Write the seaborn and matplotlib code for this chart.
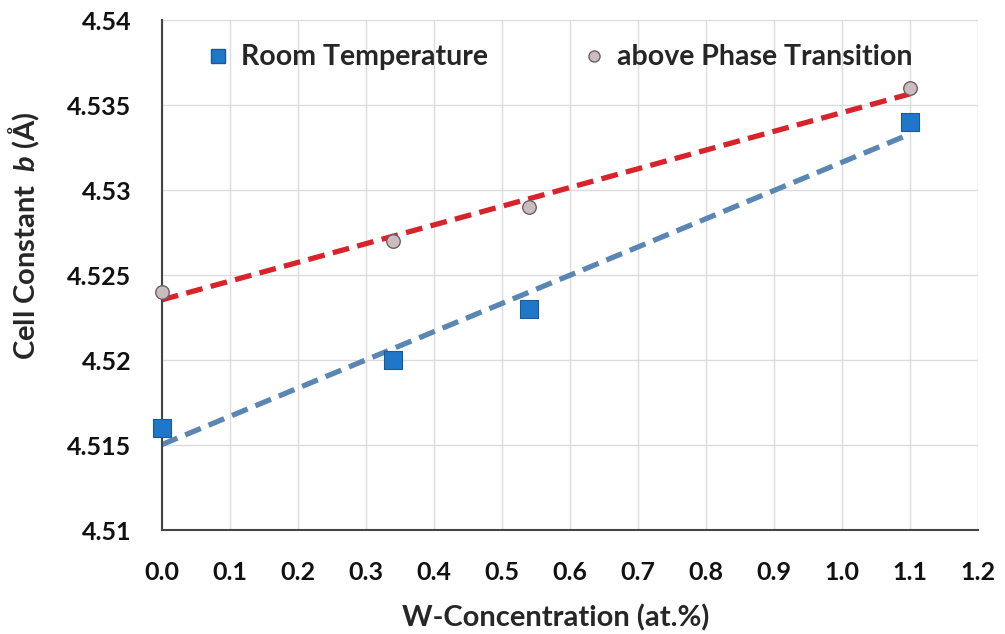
import numpy as np
import pandas as pd
import seaborn as sns
import matplotlib
matplotlib.use("Agg")
import matplotlib.pyplot as plt
from matplotlib.lines import Line2D

# W concentration (at.%) and lattice parameter b (Å)
w_conc = [0.0, 0.34, 0.54, 1.1]
b_room = [4.516, 4.520, 4.523, 4.534]
b_above = [4.524, 4.527, 4.529, 4.536]

series_names = ["Room Temperature", "above Phase Transition"]
x_ticks = [0.0, 0.1, 0.2, 0.3, 0.4, 0.5, 0.6, 0.7, 0.8, 0.9, 1.0, 1.1, 1.2]
y_ticks = [4.51, 4.515, 4.52, 4.525, 4.53, 4.535, 4.54]

df = pd.DataFrame({
    "w": w_conc * 2,
    "b": b_room + b_above,
    "series": [series_names[0]] * len(w_conc) + [series_names[1]] * len(w_conc),
})

sns.set_theme(style="whitegrid")
plt.rcParams["font.family"] = ["Lato", "DejaVu Sans"]
plt.rcParams["font.weight"] = "bold"
plt.rcParams["mathtext.fontset"] = "custom"
plt.rcParams["mathtext.it"] = "Lato:bold:italic"
plt.rcParams["mathtext.rm"] = "Lato:bold"

fig = plt.figure(figsize=(10.05, 6.34), dpi=100)
ax = fig.add_axes([0.161, 0.164, 0.812, 0.804])

room = df[df.series == series_names[0]]
above = df[df.series == series_names[1]]

# linear trend lines
sns.regplot(data=room, x="w", y="b", ax=ax, ci=None, scatter=False,
            line_kws=dict(color="#5a86b3", lw=3.8, ls=(0, (3.2, 1.6)), zorder=2))
sns.regplot(data=above, x="w", y="b", ax=ax, ci=None, scatter=False,
            line_kws=dict(color="#d8232a", lw=3.8, ls=(0, (3.2, 1.6)), zorder=2))

# data points
sns.scatterplot(data=room, x="w", y="b", ax=ax, marker="s", s=150,
                color="#1f77c9", edgecolor="#1a5a9a", linewidth=0.8, zorder=3,
                legend=False, clip_on=False)
sns.scatterplot(data=above, x="w", y="b", ax=ax, marker="o", s=95,
                color="#cbbcc0", edgecolor="#6e5f63", linewidth=1.0, zorder=3,
                legend=False, clip_on=False)

ax.set_xlim(0, 1.2)
ax.set_ylim(4.51, 4.54)
ax.set_xticks(x_ticks)
ax.set_xticklabels([f"{v:.1f}" for v in x_ticks])
ax.set_yticks(y_ticks)
ax.set_yticklabels([f"{v:g}" for v in y_ticks])
ax.tick_params(axis="both", labelsize=18, length=0)
ax.tick_params(axis="y", pad=22)
ax.tick_params(axis="x", pad=22)
for lab in ax.get_xticklabels() + ax.get_yticklabels():
    lab.set_fontweight("bold")
    lab.set_color("#111111")

ax.grid(True, color="#dcdcdc", lw=1.0)
for side in ["top", "right"]:
    ax.spines[side].set_visible(False)
for side in ["left", "bottom"]:
    ax.spines[side].set_color("#444444")
    ax.spines[side].set_linewidth(1.5)

ax.set_xlabel("W-Concentration (at.%)", fontsize=21, fontweight="bold")
ax.set_ylabel("Cell Constant  $b$ (Å)", fontsize=21, fontweight="bold")
ax.xaxis.set_label_coords(0.483, -0.145)
ax.yaxis.set_label_coords(-0.147, 0.578)

handles = [
    Line2D([], [], marker="s", ls="none", markersize=9.5, markerfacecolor="#1f77c9",
           markeredgecolor="#1a5a9a"),
    Line2D([], [], marker="o", ls="none", markersize=8, markerfacecolor="#cbbcc0",
           markeredgecolor="#6e5f63"),
]
leg = ax.legend(handles, series_names, loc="center left", bbox_to_anchor=(0.0547, 0.927),
                ncol=2, frameon=False, borderpad=0, borderaxespad=0,
                columnspacing=3.35, handletextpad=0.4, handlelength=0.8,
                prop=dict(size=20.5, weight="bold"))

fig.savefig("out.png", dpi=100, facecolor="white")
